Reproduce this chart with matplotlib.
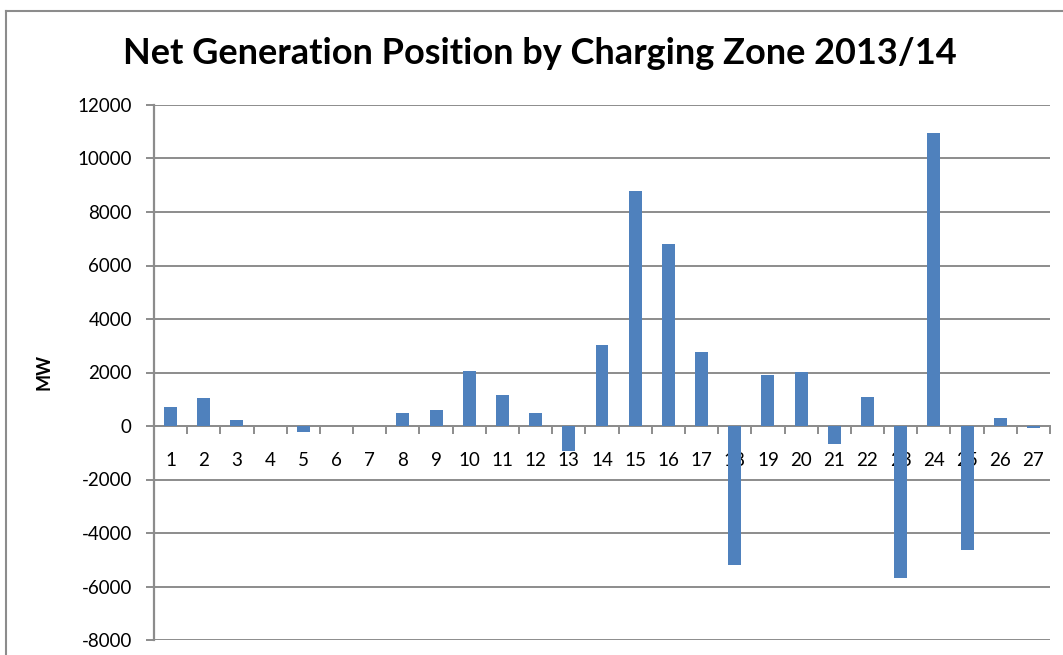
import matplotlib.pyplot as plt
from matplotlib.lines import Line2D

zones = list(range(1, 28))
net_mw = [720, 1040, 240, 0, -210, 0, 0, 480, 600, 2040,
          1150, 480, -950, 3020, 8770, 6820, 2770, -5180, 1900, 2030,
          -690, 1090, -5680, 10950, -4620, 300, -70]
y_ticks = list(range(-8000, 12001, 2000))

title = "Net Generation Position by Charging Zone 2013/14"
bar_color = "#4F81BD"
grid_color = "#8C8C8C"

plt.rcParams["font.family"] = ["Lato", "DejaVu Sans"]

fig = plt.figure(figsize=(10.63, 6.55), dpi=100)
ax = fig.add_axes([154 / 1063, 1 - 640 / 655, (1050 - 154) / 1063, (640 - 105) / 655])

ax.bar(zones, net_mw, width=0.39, color=bar_color, zorder=3)

ax.set_xlim(0.5, 27.5)
ax.set_ylim(-8000, 12000)
ax.set_yticks(y_ticks)
ax.set_yticklabels([str(v) for v in y_ticks], fontsize=13.5)
ax.yaxis.grid(True, color=grid_color, linewidth=1.4, zorder=0)
ax.tick_params(axis="y", length=6, width=1.4, color=grid_color, pad=10)

# category axis sits on the zero line
ax.spines["bottom"].set_position(("data", 0))
ax.spines["bottom"].set_color(grid_color)
ax.spines["bottom"].set_linewidth(1.4)
ax.set_xticks([z + 0.5 for z in zones])
ax.set_xticklabels([])
ax.set_xticks(zones, minor=True)
ax.set_xticklabels([str(z) for z in zones], minor=True, fontsize=13.5)
ax.tick_params(axis="x", which="major", direction="out", length=5.5, width=1.4, color=grid_color)
ax.tick_params(axis="x", which="minor", length=0, pad=19)

for side in ["top", "right"]:
    ax.spines[side].set_visible(False)
ax.spines["left"].set_color(grid_color)
ax.spines["left"].set_linewidth(1.6)

ax.set_ylabel("MW", fontsize=13, fontweight="bold", labelpad=18)

fig.text(540 / 1063, 1 - 54 / 655, title, fontsize=26, fontweight="bold",
         ha="center", va="center")

# chart frame, cropped at right and bottom
fig.add_artist(Line2D([6 / 1063, 1], [1 - 11 / 655, 1 - 11 / 655], transform=fig.transFigure,
                      color="#8C8C8C", linewidth=1.5))
fig.add_artist(Line2D([6 / 1063, 6 / 1063], [0, 1 - 11 / 655], transform=fig.transFigure,
                      color="#8C8C8C", linewidth=1.5))

fig.savefig("out.png", dpi=100)
plt.close(fig)
